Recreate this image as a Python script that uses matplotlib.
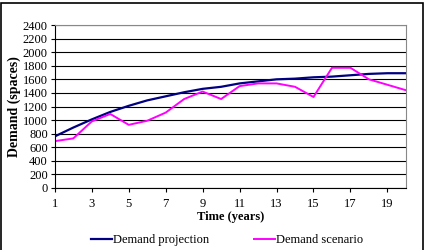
import matplotlib
matplotlib.use('Agg')
from matplotlib import pyplot as plt
from matplotlib.patches import Rectangle

plt.rcParams['font.family'] = ['Liberation Serif', 'DejaVu Serif']

years = list(range(1, 21))
projection = [760, 890, 1010, 1120, 1210, 1290, 1350, 1410, 1460, 1490,
              1540, 1570, 1600, 1610, 1630, 1640, 1660, 1680, 1690, 1690]
scenario = [690, 730, 980, 1090, 930, 990, 1110, 1310, 1420, 1310,
            1500, 1540, 1540, 1490, 1340, 1770, 1770, 1600, 1520, 1440]
xticks = [1, 3, 5, 7, 9, 11, 13, 15, 17, 19]
yticks = list(range(0, 2401, 200))


def graphing():
    fig = plt.figure(figsize=(4.25, 2.5), dpi=100)
    ax = fig.add_axes([0.129, 0.248, 0.826, 0.652])

    ax.plot(years, projection, c='#000080', lw=1.6, label='Demand projection')
    ax.plot(years, scenario, c='#FF00FF', lw=1.4, label='Demand scenario')

    ax.set_xlim(1, 20)
    ax.set_ylim(0, 2400)
    ax.set_xticks(xticks)
    ax.set_yticks(yticks)
    ax.yaxis.grid(True, color='black', lw=0.8)
    ax.set_axisbelow(True)
    for side in ['top', 'right']:
        ax.spines[side].set_color('#888888')
    ax.tick_params(axis='both', labelsize=9, length=3, width=0.8)
    ax.tick_params(axis='x', pad=4)
    ax.tick_params(axis='y', pad=2)
    ax.set_xlabel('Time (years)', fontsize=9, fontweight='bold', labelpad=1)
    ax.set_ylabel('Demand (spaces)', fontsize=10, fontweight='bold', labelpad=1)

    fig.legend(loc='center', bbox_to_anchor=(0.534, 0.04), ncol=2, frameon=False,
               fontsize=9, handlelength=1.7, handletextpad=0.05, columnspacing=3.6)

    fig.patches.append(Rectangle((0.003, -0.02), 0.992, 1.008, transform=fig.transFigure,
                                 fill=False, edgecolor='black', lw=1.2))

    fig.savefig('out.png')


if __name__ == "__main__":
    graphing()
